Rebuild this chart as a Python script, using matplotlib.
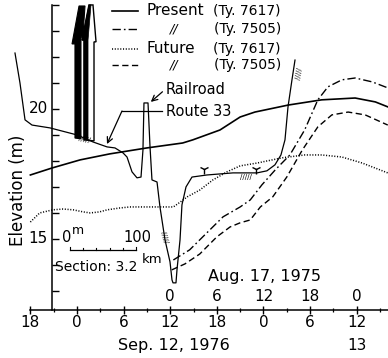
import matplotlib
matplotlib.use("Agg")
import matplotlib.pyplot as plt
from matplotlib.patches import Polygon

plt.rcParams["font.family"] = ["DejaVu Sans"]

# === data: time in hours from 0:00 Sep. 12, 1976, elevation in m ===
present_7617_t = [-6.0, -3.2, 0.4, 4.2, 9.0, 13.6, 14.9, 18.4, 21.0, 22.9, 27.2, 31.5, 35.8, 38.4, 40.0]
present_7617_z = [17.46, 17.73, 18.04, 18.27, 18.50, 18.69, 18.81, 19.19, 19.69, 19.88, 20.15, 20.35, 20.42, 20.27, 20.08]

present_7505_t = [12.4, 14.5, 16.7, 18.8, 21.0, 22.3, 23.8, 25.5, 27.4, 29.3, 31.0, 32.3, 34.1, 35.8, 38.0, 40.0]
present_7505_z = [14.19, 14.58, 15.23, 15.85, 16.23, 16.50, 17.08, 17.65, 18.23, 19.19, 20.35, 20.85, 21.12, 21.19, 21.04, 20.81]

future_7617_t = [-6.0, -4.8, -3.1, -1.8, -0.5, 0.8, 1.7, 2.9, 3.9, 5.5, 6.8, 8.1, 10.7, 12.4, 13.3, 14.2,
                 15.8, 17.5, 19.3, 21.0, 23.2, 26.4, 29.3, 31.5, 34.1, 36.7, 40.0]
future_7617_z = [15.65, 16.00, 16.12, 16.15, 16.12, 16.04, 16.00, 16.04, 16.12, 16.19, 16.23, 16.23, 16.23, 16.23, 16.42, 16.62,
                 16.88, 17.27, 17.58, 17.81, 17.92, 18.12, 18.23, 18.23, 18.15, 17.92, 17.54]

future_7505_t = [12.2, 13.9, 15.8, 18.0, 19.7, 21.0, 22.3, 23.6, 25.2, 27.0, 29.0, 31.0, 32.8, 34.9, 37.1, 40.0]
future_7505_z = [13.81, 14.04, 14.42, 15.08, 15.46, 15.62, 15.73, 16.23, 16.62, 17.38, 18.42, 19.31, 19.77, 19.88, 19.77, 19.38]

# river cross section (Section 3.2 km), drawn on the same frame
section_x = [-7.98, -7.34, -6.69, -5.79, -3.47, 0.00, 2.06, 3.86, 4.89, 5.92, 6.44, 7.08, 7.72, 8.24,
             8.49, 8.62, 9.14, 9.40, 9.65, 10.30, 10.68, 11.33, 11.97, 12.23, 12.36, 12.74, 12.87,
             13.26, 13.51, 14.03, 14.80, 16.73, 20.08, 23.17, 24.45, 25.48, 26.25, 26.77, 27.16, 27.67, 28.06]
section_z = [22.15, 21.00, 19.58, 19.38, 19.27, 19.00, 18.73, 18.54, 18.50, 18.31, 18.15, 17.58, 17.35, 17.38,
             18.42, 20.23, 20.23, 18.54, 17.27, 17.19, 16.23, 14.96, 14.12, 13.42, 13.31, 13.31, 13.81,
             14.96, 16.31, 17.00, 17.38, 17.46, 17.54, 17.54, 17.62, 17.85, 18.23, 18.81, 20.08, 21.12, 21.88]

# two wall markers above the left bank
wall1_x = [-0.26, -0.26, -0.64, 0.26, 1.03, 0.77, 0.51, 0.51]
wall1_z = [18.88, 22.50, 22.50, 23.96, 23.96, 22.85, 22.73, 18.85]
wall2_x = [0.90, 0.90, 0.64, 1.54, 2.06, 2.45, 2.19, 2.19]
wall2_z = [18.81, 22.65, 22.65, 24.00, 24.00, 22.58, 22.58, 18.77]
wall2_fill_x = [0.90, 0.90, 0.64, 1.54, 1.80, 1.42, 1.42]
wall2_fill_z = [18.81, 22.65, 22.65, 24.00, 24.00, 22.65, 18.81]

# water level marks on the flood plain
wl_x = [16.35, 23.1]
wl_z = [17.68, 17.68]

bottom_hours = [-6, 0, 6, 12, 18, 24, 30, 36]
bottom_labels = ["18", "0", "6", "12", "18", "0", "6", "12"]
top_hours = [12, 18, 24, 30, 36]
top_labels = ["0", "6", "12", "18", "0"]
minor_hours = [-3, 3, 9, 15, 21, 27, 33, 39]
elev_ticks = list(range(13, 25))

legend_names = ["Present", "//", "Future", "//"]
legend_typhoons = ["(Ty. 7617)", "(Ty. 7505)", "(Ty. 7617)", "(Ty. 7505)"]

DASHDOT = (0, (6, 2.2, 1.2, 2.2))
DASHED = (0, (4.5, 2.5))
DOTTED = (0, (0.7, 1.1))
styles = [dict(ls="-", lw=1.2), dict(ls=DASHDOT, lw=1.0), dict(ls=DOTTED, lw=1.1), dict(ls=DASHED, lw=1.0)]

fig = plt.figure(figsize=(3.88, 3.58), dpi=100)
ax = fig.add_axes([0, 0, 1, 1])
ax.set_xlim(-9.91, 40.03)
ax.set_ylim(10.42, 24.19)
ax.patch.set_alpha(0)

for s in ("top", "right"):
    ax.spines[s].set_visible(False)
ax.spines["left"].set_position(("data", -3.22))
ax.spines["left"].set_bounds(12.27, 24.0)
ax.spines["bottom"].set_position(("data", 12.27))
ax.spines["bottom"].set_bounds(-6, 40.03)
for s in ("left", "bottom"):
    ax.spines[s].set_linewidth(1.1)

ax.set_xticks(bottom_hours)
ax.set_xticks(minor_hours, minor=True)
ax.set_yticks(elev_ticks)
ax.set_xticklabels([])
ax.set_yticklabels([])
ax.tick_params(axis="x", which="major", direction="inout", length=6, width=1.0)
ax.tick_params(axis="x", which="minor", direction="inout", length=3, width=0.9)
ax.tick_params(axis="y", direction="in", length=5, width=1.0)

# hydrographs
ax.plot(present_7617_t, present_7617_z, color="black", **styles[0])
ax.plot(present_7505_t, present_7505_z, color="black", **styles[1])
ax.plot(future_7617_t, future_7617_z, color="black", **styles[2])
ax.plot(future_7505_t, future_7505_z, color="black", **styles[3])

# cross section
ax.plot(section_x, section_z, color="black", lw=0.9)
ax.add_patch(Polygon(list(zip(wall1_x, wall1_z)), closed=True, fc="black", ec="black", lw=0.8))
ax.add_patch(Polygon(list(zip(wall2_x, wall2_z)), closed=True, fc="none", ec="black", lw=1.0))
ax.add_patch(Polygon(list(zip(wall2_fill_x, wall2_fill_z)), closed=True, fc="black", ec="black", lw=0.5))
ax.plot(wl_x, wl_z, ls="none", marker="1", ms=7, mew=1.0, color="black")

# bank hatching
hatch = dict(fontsize=5, color="black", ha="center", va="center")
ax.text(1.0, 18.82, "/////", rotation=-12, **hatch)
ax.text(11.3, 15.08, "/////", rotation=-75, **hatch)
ax.text(21.7, 17.37, "/////", rotation=0, **hatch)
ax.text(28.6, 21.37, "/////", rotation=80, **hatch)

# scale bar
ax.plot([-0.90, 7.59], [14.58, 14.58], color="black", lw=0.9)
for i in range(6):
    xb = -0.90 + i * (7.59 + 0.90) / 5
    ax.plot([xb, xb], [14.58, 14.58 + (0.12 if i in (0, 5) else 0.07)], color="black", lw=0.8)
ax.text(-1.29, 15.04, "0", fontsize=10.5, ha="center", va="center")
ax.text(0.1, 15.33, "m", fontsize=9, ha="center", va="center")
ax.text(7.72, 15.04, "100", fontsize=10.5, ha="center", va="center")
ax.text(-2.85, 13.92, "Section: 3.2", fontsize=10, ha="left", va="center")
ax.text(8.35, 14.19, "km", fontsize=9.5, ha="left", va="center")

# annotations
ax.annotate("", xy=(9.5, 20.27), xytext=(11.0, 20.66),
            arrowprops=dict(arrowstyle="->", lw=0.9, color="black", shrinkA=0, shrinkB=0))
ax.text(11.4, 20.73, "Railroad", fontsize=10.5, ha="left", va="center")
ax.plot([11.0, 5.79], [19.92, 19.92], color="black", lw=0.9)
ax.annotate("", xy=(3.86, 18.65), xytext=(5.79, 19.92),
            arrowprops=dict(arrowstyle="->", lw=0.9, color="black", shrinkA=0, shrinkB=0))
ax.text(11.4, 19.92, "Route 33", fontsize=10.5, ha="left", va="center")

# legend
leg_x = [4.5, 7.85]
leg_rows = [23.77, 23.08, 22.31, 21.69]
for row, name, ty, st in zip(leg_rows, legend_names, legend_typhoons, styles):
    ax.plot(leg_x, [row, row], color="black", **st)
    if name == "//":
        ax.text(12.48, row, name, fontsize=9, ha="center", va="center", style="italic")
    else:
        ax.text(9.01, row, name, fontsize=11, ha="left", va="center")
    ax.text(26.25, row, ty, fontsize=10, ha="right", va="center")

# axis labels
ax.text(-3.75, 20.0, "20", fontsize=11, ha="right", va="center")
ax.text(-3.75, 15.0, "15", fontsize=11, ha="right", va="center")
ax.text(-7.6, 16.88, "Elevation (m)", fontsize=12, rotation=90, ha="center", va="center")

for h, lab in zip(bottom_hours, bottom_labels):
    ax.text(h, 11.77, lab, fontsize=11, ha="center", va="center")
for h, lab in zip(top_hours, top_labels):
    ax.text(h, 12.77, lab, fontsize=11, ha="center", va="center")
ax.text(24.07, 13.54, "Aug. 17, 1975", fontsize=11.5, ha="center", va="center")
ax.text(12.48, 10.92, "Sep. 12, 1976", fontsize=11.5, ha="center", va="center")
ax.text(36.0, 10.92, "13", fontsize=11, ha="center", va="center")

fig.savefig("out.png", dpi=100)
